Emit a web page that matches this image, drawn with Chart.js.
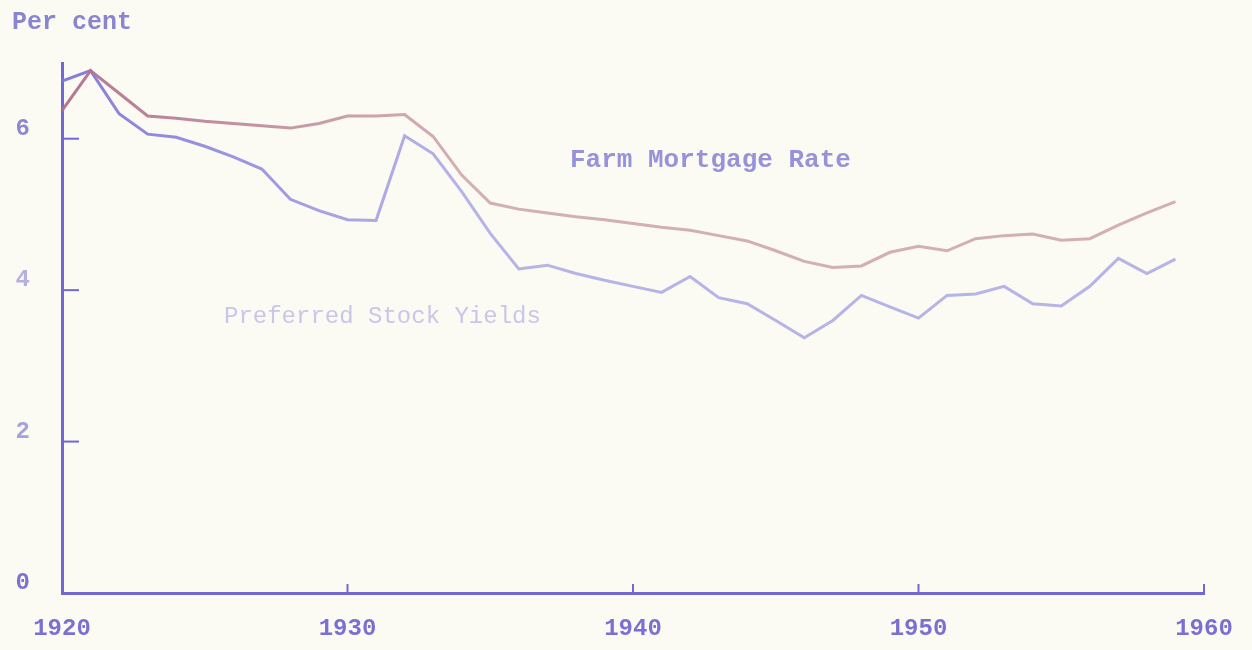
<!DOCTYPE html>
<html lang="en">
<head>
    <meta charset="UTF-8">
    <title>Farm Mortgage Rate and Preferred Stock Yields</title>
    <script src="https://cdn.jsdelivr.net/npm/chart.js"></script>

    <style>
        body {
            margin: 0;
            background-color: #fbfaf3;
        }
        .wrap {
            position: relative;
            width: 1252px;
            height: 650px;
        }
        .note {
            position: absolute;
            font-family: "Liberation Mono", "DejaVu Sans Mono", monospace;
            white-space: nowrap;
            line-height: 1;
        }
        #perCent {
            left: 12px;
            top: 10px;
            font-size: 25px;
            font-weight: bold;
            color: #8985d2;
        }
        #farmLabel {
            left: 570px;
            top: 147px;
            font-size: 26px;
            font-weight: bold;
            color: #9793da;
        }
        #prefLabel {
            left: 224px;
            top: 305px;
            font-size: 24px;
            color: #c9c6ea;
        }
    </style>
</head>
<body>

    <div class="wrap">
        <canvas id="yieldChart" width="1252" height="650"></canvas>
        <div class="note" id="perCent">Per cent</div>
        <div class="note" id="farmLabel">Farm Mortgage Rate</div>
        <div class="note" id="prefLabel">Preferred Stock Yields</div>
    </div>

    <script>
        // данные (проценты)
        const years = [1920, 1921, 1922, 1923, 1924, 1925, 1926, 1927, 1928, 1929,
                       1930, 1931, 1932, 1933, 1934, 1935, 1936, 1937, 1938, 1939,
                       1940, 1941, 1942, 1943, 1944, 1945, 1946, 1947, 1948, 1949,
                       1950, 1951, 1952, 1953, 1954, 1955, 1956, 1957, 1958, 1959];

        const farmMortgageRate = [6.37, 6.90, 6.60, 6.30, 6.27, 6.23, 6.20, 6.17, 6.14, 6.20,
                                  6.30, 6.30, 6.32, 6.03, 5.52, 5.15, 5.07, 5.02, 4.97, 4.93,
                                  4.88, 4.83, 4.79, 4.72, 4.65, 4.52, 4.38, 4.30, 4.32, 4.50,
                                  4.58, 4.52, 4.68, 4.72, 4.74, 4.66, 4.68, 4.86, 5.02, 5.17];

        const preferredStockYields = [6.76, 6.90, 6.33, 6.06, 6.02, 5.90, 5.76, 5.60, 5.20, 5.05,
                                      4.93, 4.92, 6.04, 5.80, 5.30, 4.75, 4.28, 4.33, 4.22, 4.13,
                                      4.05, 3.97, 4.18, 3.90, 3.82, 3.60, 3.37, 3.60, 3.93, 3.78,
                                      3.63, 3.93, 3.95, 4.05, 3.82, 3.79, 4.05, 4.42, 4.22, 4.41];

        const xTickValues = [1920, 1930, 1940, 1950, 1960];
        const yTickValues = [0, 2, 4, 6];
        const yTickColors = ['#7a72d0', '#a6a2de', '#b4b0e4', '#8c88d4'];

        const axisColor = '#7268d4';

        // цвет линии бледнеет слева направо, как на скане
        function fadeGradient(context, from, to) {
            const area = context.chart.chartArea;
            if (!area) return from;
            const g = context.chart.ctx.createLinearGradient(area.left, 0, area.right, 0);
            g.addColorStop(0, from);
            g.addColorStop(0.35, to);
            g.addColorStop(1, to);
            return g;
        }

        // короткие засечки внутрь графика
        const innerTicks = {
            id: 'innerTicks',
            afterDraw(chart) {
                const { ctx, scales: { x, y } } = chart;
                ctx.save();
                ctx.strokeStyle = axisColor;
                ctx.lineWidth = 2;
                yTickValues.forEach(v => {
                    if (v === 0) return;
                    const py = y.getPixelForValue(v);
                    ctx.beginPath();
                    ctx.moveTo(x.left, py);
                    ctx.lineTo(x.left + 17, py);
                    ctx.stroke();
                });
                xTickValues.forEach(v => {
                    if (v === 1920) return;
                    const px = x.getPixelForValue(v);
                    ctx.beginPath();
                    ctx.moveTo(px, y.bottom);
                    ctx.lineTo(px, y.bottom - 9);
                    ctx.stroke();
                });
                ctx.restore();
            }
        };

        const ctx = document.getElementById('yieldChart').getContext('2d');

        new Chart(ctx, {
            type: 'line',
            data: {
                datasets: [
                    {
                        label: 'Farm Mortgage Rate',
                        data: years.map((yr, i) => ({ x: yr, y: farmMortgageRate[i] })),
                        borderColor: c => fadeGradient(c, 'rgba(176,112,140,0.95)', 'rgba(204,160,168,0.85)'),
                        borderWidth: 3,
                        pointRadius: 0,
                        tension: 0
                    },
                    {
                        label: 'Preferred Stock Yields',
                        data: years.map((yr, i) => ({ x: yr, y: preferredStockYields[i] })),
                        borderColor: c => fadeGradient(c, 'rgba(126,118,216,0.95)', 'rgba(170,166,228,0.85)'),
                        borderWidth: 3,
                        pointRadius: 0,
                        tension: 0
                    }
                ]
            },
            options: {
                responsive: false,
                animation: false,
                layout: {
                    padding: { top: 63, right: 48, left: 0, bottom: 0 }
                },
                plugins: {
                    legend: { display: false },
                    tooltip: { enabled: false }
                },
                scales: {
                    x: {
                        type: 'linear',
                        min: 1920,
                        max: 1960,
                        grid: { display: false },
                        border: { color: axisColor, width: 3 },
                        afterBuildTicks: s => { s.ticks = xTickValues.map(v => ({ value: v })); },
                        afterFit: s => { s.height = 57; },
                        ticks: {
                            autoSkip: false,
                            maxRotation: 0,
                            padding: 14,
                            color: '#7a70d4',
                            font: { family: 'Liberation Mono', size: 24, weight: 'bold' },
                            callback: v => String(v)
                        }
                    },
                    y: {
                        min: 0,
                        max: 7,
                        grid: { display: false },
                        border: { color: axisColor, width: 3 },
                        afterBuildTicks: s => { s.ticks = yTickValues.map(v => ({ value: v })); },
                        afterFit: s => { s.width = 62; },
                        ticks: {
                            padding: 24,
                            labelOffset: -10,
                            color: c => yTickColors[c.index] || '#8c88d4',
                            font: { family: 'Liberation Mono', size: 24, weight: 'bold' },
                            callback: v => String(v)
                        }
                    }
                }
            },
            plugins: [innerTicks]
        });
    </script>

</body>
</html>
